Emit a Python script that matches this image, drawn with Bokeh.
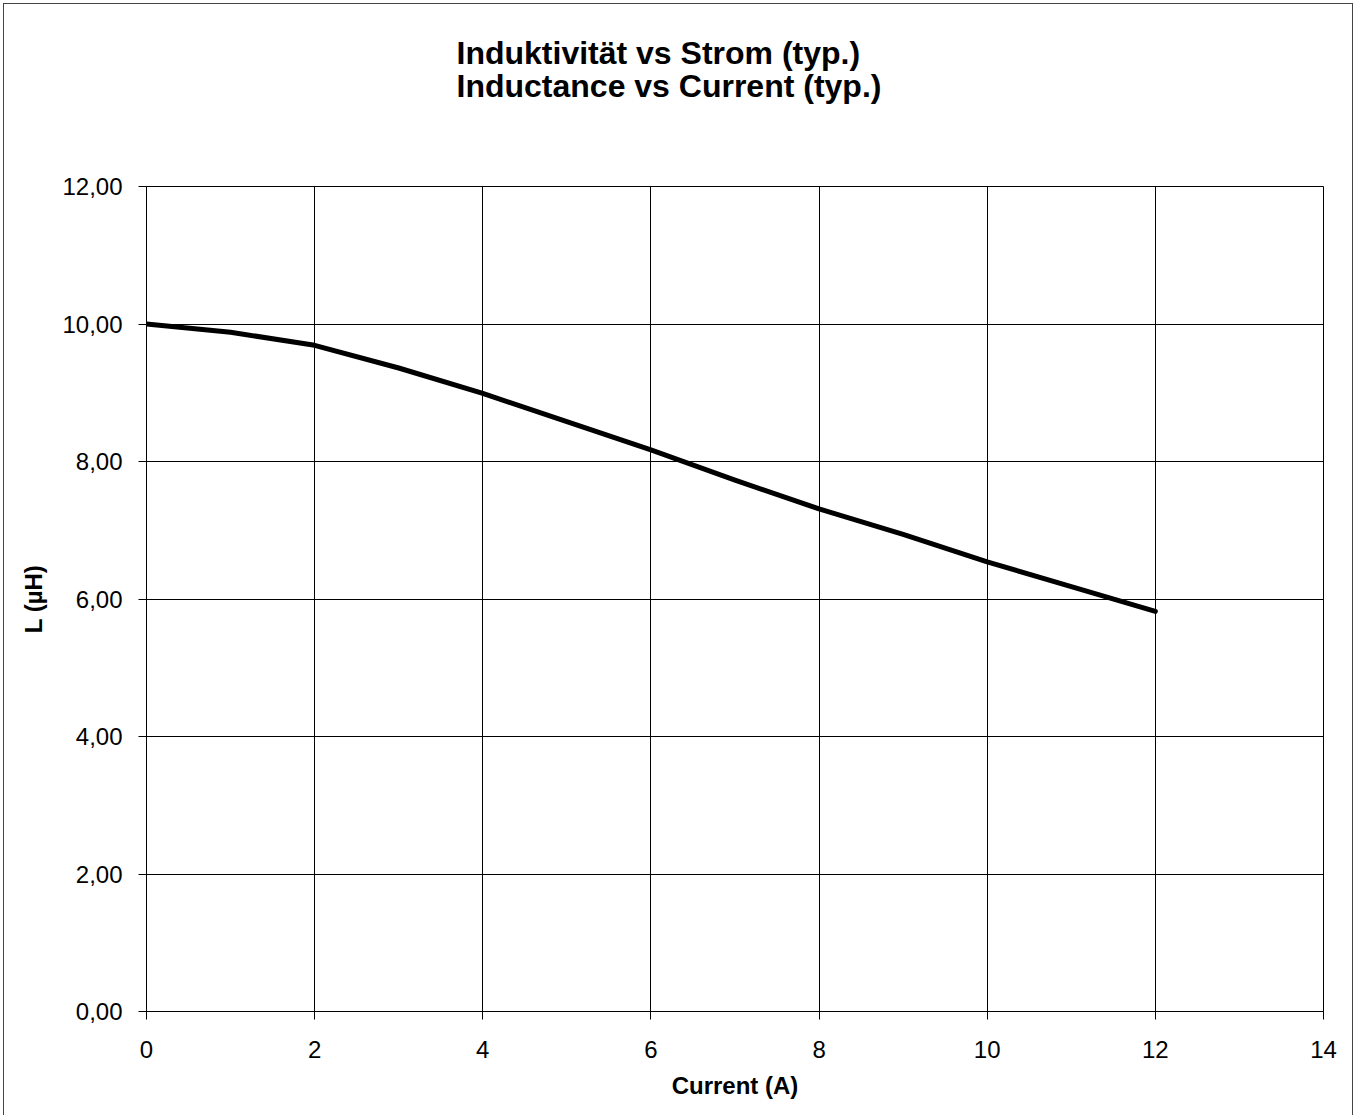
from bokeh.plotting import figure
from bokeh.models import Title, CustomJSTickFormatter, FixedTicker, Range1d
from bokeh.embed import file_html
from bokeh.resources import INLINE

current_a = [0, 1, 2, 3, 4, 5, 6, 7, 8, 9, 10, 11, 12]
inductance_uh = [10.00, 9.88, 9.69, 9.36, 8.99, 8.58, 8.17, 7.73, 7.31, 6.94, 6.54, 6.18, 5.82]
x_ticks = [0, 2, 4, 6, 8, 10, 12, 14]
y_ticks = [0, 2, 4, 6, 8, 10, 12]
title_line1 = "Induktivität vs Strom (typ.)"
title_line2 = "Inductance vs Current (typ.)"

FONT = "Liberation Sans"

p = figure(width=1356, height=1115, output_backend="svg", toolbar_location=None,
           x_range=Range1d(0, 14), y_range=Range1d(0, 12),
           min_border_left=146, min_border_right=33, min_border_top=186, min_border_bottom=104)

p.line(current_a, inductance_uh, line_width=5, line_color="black",
       line_join="round", line_cap="round")

# spacer panel between the frame and the title
spacer = Title(text=" ", text_font_size="10px", standoff=69)
p.add_layout(spacer, "above")
ttl = Title(text=title_line1 + "\n" + title_line2, align="left", offset=310,
            text_font=FONT, text_font_size="32px", text_font_style="bold",
            text_color="black", text_line_height=0.93, standoff=0)
p.add_layout(ttl, "above")

p.xaxis.ticker = FixedTicker(ticks=x_ticks)
p.yaxis.ticker = FixedTicker(ticks=y_ticks)
p.yaxis.formatter = CustomJSTickFormatter(code="return tick.toFixed(2).replace('.', ',');")

for ax in (p.xaxis, p.yaxis):
    ax.axis_line_color = "black"
    ax.major_tick_line_color = "black"
    ax.major_tick_out = 8
    ax.major_tick_in = 0
    ax.minor_tick_line_color = None
    ax.major_label_text_font = FONT
    ax.major_label_text_font_size = "24px"
    ax.major_label_text_color = "black"
    ax.axis_label_text_font = FONT
    ax.axis_label_text_font_size = "24px"
    ax.axis_label_text_font_style = "bold"
    ax.axis_label_text_color = "black"

p.xaxis.major_label_standoff = 21
p.yaxis.major_label_standoff = 16
p.xaxis.axis_label = "Current (A)"
p.yaxis.axis_label = "L (µH)"
p.xaxis.axis_label_standoff = 11
p.yaxis.axis_label_standoff = 12

p.xgrid.grid_line_color = "black"
p.ygrid.grid_line_color = "black"
p.xgrid.grid_line_alpha = 1.0
p.ygrid.grid_line_alpha = 1.0
p.outline_line_color = "black"
p.outline_line_width = 1
p.outline_line_alpha = 1.0
p.background_fill_color = "white"
p.border_fill_color = None
# thin chart-area border on the left, top and right, a few pixels in from the edge
p.styles = {
    "background-color": "white",
    "box-shadow": ("inset 3px 0 0 0 white, inset 0 3px 0 0 white, inset -3px 0 0 0 white, "
                   "inset 4px 0 0 0 #444, inset 0 4px 0 0 #444, inset -4px 0 0 0 #444"),
}

open("out.html", "w").write(file_html(p, INLINE))
